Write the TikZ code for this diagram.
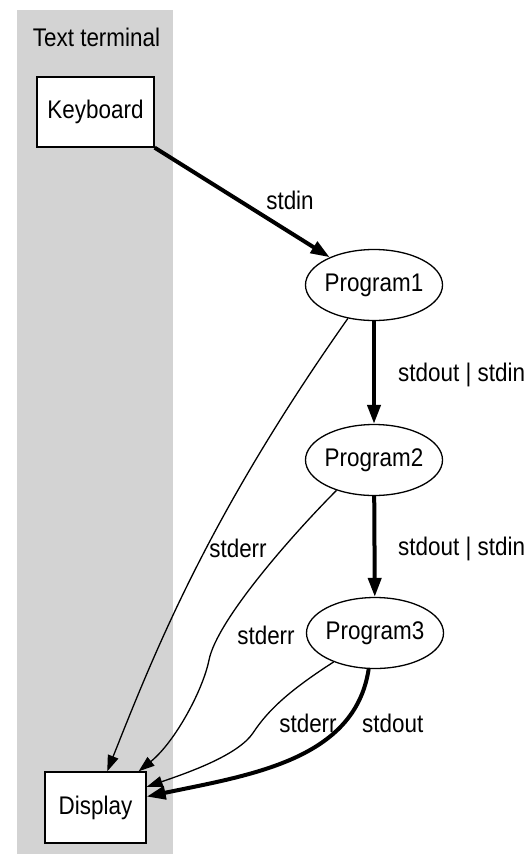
\documentclass[tikz,border=0pt]{standalone}
\usepackage{fontspec}
\setmainfont{Liberation Sans}[FakeStretch=0.88]
\usetikzlibrary{arrows.meta,shapes.geometric}
\definecolor{termgray}{HTML}{D3D3D3}
\begin{document}
\begin{tikzpicture}[x=1pt,y=-1pt,
  every node/.style={font=\fontsize{25.5}{30}\selectfont, inner sep=0pt},
  device/.style={draw, line width=1.3pt, fill=white, minimum width=117pt, minimum height=70pt},
  prog/.style={draw, ellipse, line width=1.3pt, fill=white, minimum width=137pt, minimum height=71pt},
  pipe/.style={line width=4pt, -{Triangle[length=19pt,width=13pt]}},
  errflow/.style={line width=1.3pt, -{Triangle[length=16pt,width=11pt]}},
  lbl/.style={}]
  \useasboundingbox (0,0) rectangle (532,854);
  % terminal cluster
  \fill[termgray] (17,10) rectangle (173,854);
  \node[lbl] (title) at (96.5,37) {Text terminal};
  % devices
  \node[device] (kbd) at (95.5,112) {Keyboard};
  \node[device, minimum width=101pt, minimum height=71pt] (disp) at (95.5,807.5) {Display};
  % programs
  \node[prog] (p1) at (374,285) {\makebox[0pt]{Program1}};
  \node[prog] (p2) at (374,460) {\makebox[0pt]{Program2}};
  \node[prog] (p3) at (375,633) {\makebox[0pt]{Program3}};
  % data flow
  \draw[pipe] (kbd.south east) -- (p1);
  \draw[pipe] (p1) -- (p2);
  \draw[pipe] (p2) -- (p3);
  \draw[pipe] (p3.260) .. controls (355,760) and (250,775) .. (disp.12);
  % error streams
  \draw[errflow] (p1.232) .. controls (208,517) and (155,651) .. (disp.72);
  \draw[errflow] (p2.219) .. controls (293,534) and (217,620) .. (209,660)
                          .. controls (203,690) and (175,742) .. (disp.40);
  \draw[errflow] (p3.215) .. controls (290,690) and (268,710) .. (253,733)
                          .. controls (238,755) and (190,772) .. (disp.22);
  % labels
  \node[lbl] (lin) at (290,200) {stdin};
  \node[lbl, anchor=west] (l12) at (398,375) {stdout | stdin};
  \node[lbl, anchor=west] (l23) at (398,549) {stdout | stdin};
  \node[lbl] (e1) at (238,548) {stderr};
  \node[lbl] (e2) at (266,635) {stderr};
  \node[lbl] (e3) at (308,723) {stderr};
  \node[lbl, anchor=west] (o3) at (362,723) {stdout};
\end{tikzpicture}
\end{document}
